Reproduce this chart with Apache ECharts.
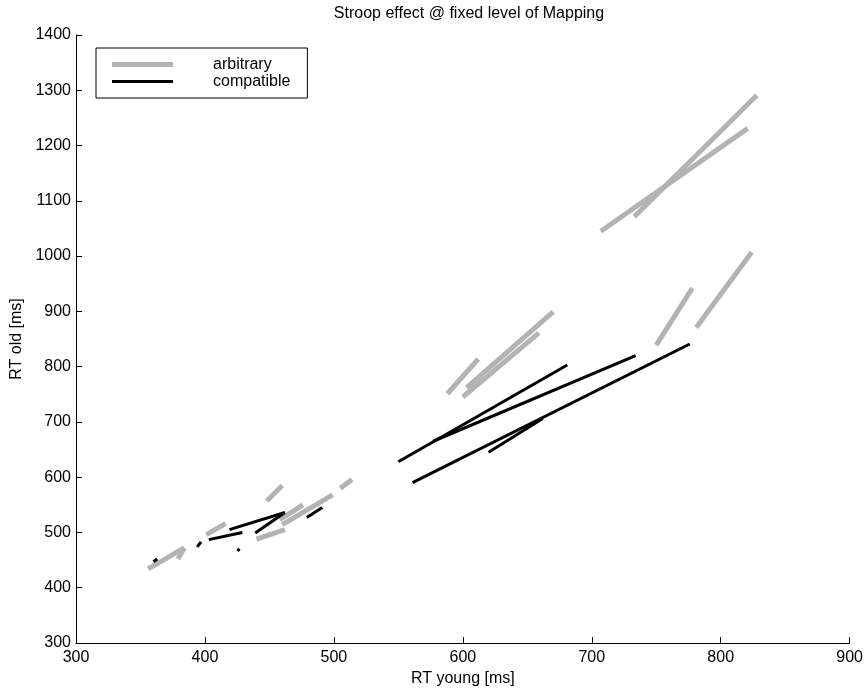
<!DOCTYPE html>
<html>
<head>
<meta charset="utf-8">
<script src="https://cdn.jsdelivr.net/npm/echarts@6/dist/echarts.min.js"></script>
<style>
  html, body { margin: 0; padding: 0; background: #fff; }
  #chart { width: 866px; height: 693px; }
</style>
</head>
<body>
<div id="chart"></div>
<script>
// Each segment: [youngStart, oldStart, youngEnd, oldEnd] (ms)
const arbitrarySegments = [
  [733, 1071, 828, 1291],
  [707, 1045, 821, 1231],
  [750, 839, 778, 942],
  [781, 871, 824, 1007],
  [588, 751, 612, 814],
  [600, 745, 659, 861],
  [603, 762, 670, 899],
  [356, 434, 384, 472],
  [379, 452, 384, 472],
  [401, 496, 416, 516],
  [440, 488, 462, 505],
  [448, 557, 460, 585],
  [458, 523, 476, 550],
  [460, 514, 499, 568],
  [505, 580, 514, 596]
];
const compatibleSegments = [
  [561, 590, 776, 841],
  [577, 665, 734, 820],
  [550, 628, 681, 803],
  [620, 645, 662, 706],
  [360, 447, 363, 452],
  [394, 474, 397, 483],
  [403, 487, 429, 500],
  [419, 505, 462, 536],
  [425, 470, 427, 467],
  [439, 499, 462, 536],
  [479, 527, 491, 545]
];
const xTicks = [300, 400, 500, 600, 700, 800, 900];
const yTicks = [300, 400, 500, 600, 700, 800, 900, 1000, 1100, 1200, 1300, 1400];

const FONT = "'Liberation Sans', Arial, Helvetica, sans-serif";
const GRAY = '#b3b3b3';

function makeSeries(name, segs, color, width) {
  return segs.map(s => ({
    name: name,
    type: 'line',
    symbol: 'none',
    silent: true,
    animation: false,
    lineStyle: { color: color, width: width, cap: 'butt' },
    itemStyle: { color: color },
    data: [[s[0], s[1]], [s[2], s[3]]]
  }));
}

const series = [].concat(
  makeSeries('arbitrary', arbitrarySegments, GRAY, 5),
  makeSeries('compatible', compatibleSegments, '#000', 3)
);

const chart = echarts.init(document.getElementById('chart'), null, { renderer: 'canvas' });
chart.setOption({
  animation: false,
  backgroundColor: '#fff',
  textStyle: { fontFamily: FONT, color: '#000' },
  title: {
    text: 'Stroop effect @ fixed level of Mapping',
    left: 464,
    textAlign: 'center',
    top: 1,
    textStyle: { fontFamily: FONT, fontSize: 16, fontWeight: 'normal', color: '#000' }
  },
  legend: {
    data: [
      { name: 'arbitrary', icon: 'path://M0,0H61V5H0Z', itemStyle: { color: GRAY } },
      { name: 'compatible', icon: 'path://M0,0H61V3H0Z', itemStyle: { color: '#000' } }
    ],
    symbolKeepAspect: true,
    orient: 'vertical',
    left: 96,
    top: 48,
    padding: [8, 17, 8, 16],
    itemWidth: 61,
    itemHeight: 14,
    itemGap: 0,
    borderColor: '#000',
    borderWidth: 1,
    backgroundColor: '#fff',
    selectedMode: false,
    textStyle: { fontFamily: FONT, fontSize: 16, lineHeight: 17, color: '#000', padding: [0, 0, 0, 35] }
  },
  grid: { left: 76, right: 16, top: 35, bottom: 50, containLabel: false },
  xAxis: {
    type: 'value',
    min: xTicks[0],
    max: xTicks[xTicks.length - 1],
    interval: 100,
    name: 'RT young [ms]',
    nameLocation: 'middle',
    nameGap: 25,
    nameTextStyle: { fontFamily: FONT, fontSize: 16, color: '#000' },
    axisLine: { onZero: false, lineStyle: { color: '#000', width: 1 } },
    axisTick: { inside: true, length: 6, lineStyle: { color: '#000' } },
    axisLabel: { fontFamily: FONT, fontSize: 16, color: '#000', margin: 7, formatter: v => String(v) },
    splitLine: { show: false }
  },
  yAxis: {
    type: 'value',
    min: yTicks[0],
    max: yTicks[yTicks.length - 1],
    interval: 100,
    name: 'RT old [ms]',
    nameLocation: 'middle',
    nameGap: 48,
    nameTextStyle: { fontFamily: FONT, fontSize: 16, color: '#000' },
    axisLine: { show: true, onZero: false, lineStyle: { color: '#000', width: 1 } },
    axisTick: { show: true, inside: true, length: 6, lineStyle: { color: '#000' } },
    axisLabel: { fontFamily: FONT, fontSize: 16, color: '#000', margin: 5, formatter: v => String(v) },
    splitLine: { show: false }
  },
  series: series
});
</script>
</body>
</html>
